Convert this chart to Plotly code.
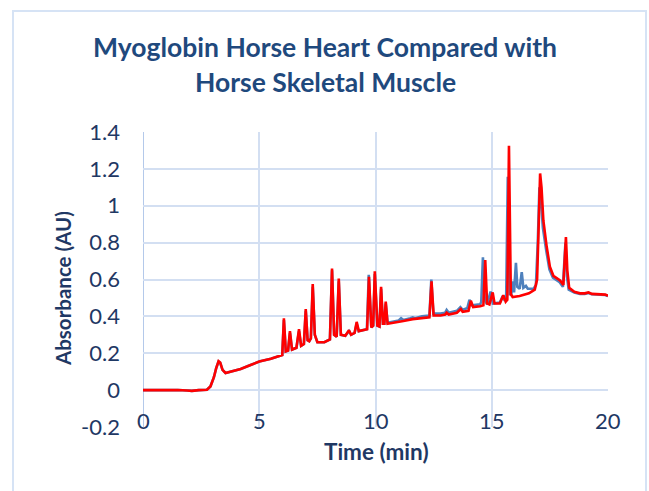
import plotly.graph_objects as go

# ---- data ----
heart_time = [0, 0.5, 1.0, 1.5, 1.9, 2.1, 2.4, 2.75, 2.9, 3.05, 3.15, 3.25, 3.32, 3.42, 3.55, 3.8, 4.2, 4.6,
              5.0, 5.5, 5.9, 5.99, 6.06, 6.14, 6.24, 6.32, 6.41, 6.6, 6.71, 6.8, 6.92, 7.0, 7.08, 7.15, 7.22,
              7.3, 7.39, 7.5, 7.8, 8.04, 8.13, 8.22, 8.33, 8.42, 8.51, 8.7, 8.86, 8.95, 9.1, 9.19, 9.28, 9.5,
              9.63, 9.71, 9.82, 9.9, 9.97, 10.08, 10.17, 10.24, 10.32, 10.38, 10.44, 10.52, 10.8, 11.0, 11.1,
              11.2, 11.5, 11.6, 11.7, 12.0, 12.32, 12.4, 12.49, 12.8, 13.0, 13.06, 13.15, 13.5, 13.65, 13.75,
              13.95, 14.04, 14.15, 14.5, 14.55, 14.62, 14.7, 14.8, 14.95, 15.05, 15.35, 15.47, 15.56, 15.62,
              15.69, 15.77, 15.84, 15.9, 15.96, 16.04, 16.1, 16.2, 16.29, 16.36, 16.47, 16.55, 16.8, 16.9,
              16.98, 17.05, 17.12, 17.2, 17.34, 17.48, 17.63, 17.92, 18.06, 18.12, 18.17, 18.23, 18.31,
              18.55, 18.8, 19.0, 19.16, 19.3, 19.52, 19.88, 20.0]
heart_abs = [0.0, 0.001, 0.0, 0.001, -0.002, -0.004, 0.0, 0.002, 0.02, 0.07, 0.12, 0.155, 0.148, 0.11, 0.093,
             0.10, 0.115, 0.135, 0.155, 0.17, 0.183, 0.19, 0.38, 0.21, 0.215, 0.31, 0.22, 0.23, 0.32, 0.24,
             0.25, 0.43, 0.27, 0.265, 0.28, 0.56, 0.30, 0.26, 0.26, 0.275, 0.65, 0.30, 0.29, 0.59, 0.30,
             0.295, 0.32, 0.30, 0.31, 0.36, 0.32, 0.325, 0.33, 0.625, 0.34, 0.35, 0.63, 0.35, 0.345, 0.55,
             0.36, 0.36, 0.47, 0.365, 0.372, 0.378, 0.39, 0.38, 0.39, 0.395, 0.39, 0.40, 0.405, 0.60, 0.415,
             0.415, 0.42, 0.435, 0.42, 0.43, 0.45, 0.435, 0.445, 0.49, 0.46, 0.465, 0.48, 0.72, 0.49, 0.465,
             0.535, 0.47, 0.475, 0.51, 0.485, 0.50, 1.157, 0.52, 0.52, 0.59, 0.53, 0.69, 0.56, 0.55, 0.64,
             0.555, 0.565, 0.55, 0.55, 0.57, 0.80, 1.10, 1.02, 0.88, 0.76, 0.655, 0.61, 0.585, 0.56, 0.68,
             0.80, 0.62, 0.545, 0.53, 0.522, 0.522, 0.527, 0.52, 0.518, 0.516, 0.51]

skeletal_time = [0, 0.5, 1.0, 1.5, 1.9, 2.1, 2.4, 2.75, 2.9, 3.05, 3.15, 3.25, 3.32, 3.42, 3.55, 3.8, 4.2, 4.6,
                 5.0, 5.5, 5.9, 5.99, 6.06, 6.14, 6.24, 6.32, 6.41, 6.6, 6.71, 6.8, 6.92, 7.0, 7.08, 7.15, 7.22,
                 7.3, 7.39, 7.5, 7.8, 8.04, 8.13, 8.22, 8.33, 8.42, 8.51, 8.7, 8.86, 8.95, 9.1, 9.19, 9.28, 9.5,
                 9.64, 9.72, 9.82, 9.9, 9.97, 10.08, 10.17, 10.24, 10.32, 10.38, 10.44, 10.52, 10.8, 11.2,
                 11.6, 12.0, 12.32, 12.41, 12.5, 12.8, 13.0, 13.06, 13.15, 13.5, 13.67, 13.75, 14.0, 14.1,
                 14.2, 14.5, 14.64, 14.72, 14.8, 14.9, 15.04, 15.12, 15.35, 15.5, 15.6, 15.67, 15.74, 15.82,
                 15.9, 16.2, 16.6, 16.85, 16.95, 17.02, 17.08, 17.14, 17.22, 17.36, 17.5, 17.65, 17.94, 18.08,
                 18.14, 18.19, 18.25, 18.33, 18.55, 18.8, 19.0, 19.16, 19.3, 19.52, 19.88, 20.0]
skeletal_abs = [0.0, 0.001, 0.0, 0.001, -0.002, -0.004, 0.0, 0.002, 0.02, 0.07, 0.12, 0.157, 0.15, 0.11, 0.093,
                0.10, 0.115, 0.135, 0.155, 0.17, 0.183, 0.19, 0.39, 0.21, 0.215, 0.32, 0.22, 0.23, 0.33, 0.24,
                0.25, 0.44, 0.27, 0.265, 0.28, 0.575, 0.30, 0.26, 0.26, 0.275, 0.66, 0.30, 0.29, 0.605, 0.30,
                0.295, 0.325, 0.30, 0.31, 0.37, 0.32, 0.325, 0.33, 0.615, 0.34, 0.35, 0.645, 0.35, 0.345, 0.56,
                0.36, 0.36, 0.48, 0.36, 0.365, 0.375, 0.385, 0.39, 0.395, 0.59, 0.405, 0.405, 0.41, 0.42, 0.41,
                0.42, 0.44, 0.425, 0.43, 0.485, 0.45, 0.455, 0.46, 0.705, 0.47, 0.465, 0.53, 0.47, 0.47, 0.515,
                0.48, 0.49, 1.325, 0.52, 0.505, 0.51, 0.525, 0.545, 0.60, 0.90, 1.175, 1.10, 0.92, 0.78, 0.67,
                0.62, 0.595, 0.57, 0.70, 0.83, 0.65, 0.555, 0.533, 0.525, 0.525, 0.53, 0.522, 0.52, 0.518, 0.512]

x_ticks = [0, 5, 10, 15, 20]
y_ticks = [1.4, 1.2, 1.0, 0.8, 0.6, 0.4, 0.2, 0.0, -0.2]
y_tick_text = ["1.4", "1.2", "1", "0.8", "0.6", "0.4", "0.2", "0", "-0.2"]

title_lines = ["Myoglobin Horse Heart Compared with", "Horse Skeletal Muscle"]
x_title = "Time (min)"
y_title = "Absorbance (AU)"

# ---- styling ----
FONT = "Lato, Open Sans, sans-serif"
TXT = "#1F3864"
TITLE_C = "#1F497D"
GRID = "#D3DFF2"

W, H = 649, 491
L, R, T, B = 143, 41, 132, 64
pw = W - L - R
ph = H - T - B

fig = go.Figure()
fig.add_trace(go.Scatter(x=heart_time, y=heart_abs, mode="lines", name="Horse Heart",
                         line=dict(color="#4F81BD", width=2.6), hoverinfo="skip"))
fig.add_trace(go.Scatter(x=skeletal_time, y=skeletal_abs, mode="lines", name="Horse Skeletal Muscle",
                         line=dict(color="#FF0000", width=2.6), hoverinfo="skip"))

annotations = []
for i, line in enumerate(title_lines):
    annotations.append(dict(text="<b>%s</b>" % line, xref="paper", yref="paper",
                            x=(325 - L) / pw, y=1 + (T - (47 + 35 * i)) / ph,
                            xanchor="center", yanchor="middle", showarrow=False,
                            font=dict(family=FONT, size=26.5, color=TITLE_C)))
for v in x_ticks:
    annotations.append(dict(text=str(v), xref="x", yref="y", x=v, y=-0.2, yshift=7,
                            xanchor="center", yanchor="middle", showarrow=False,
                            font=dict(family=FONT, size=22, color=TXT)))
annotations.append(dict(text="<b>%s</b>" % x_title, xref="paper", yref="paper",
                        x=(376 - L) / pw, y=-(451 - (T + ph)) / ph, xanchor="center", yanchor="middle",
                        showarrow=False, font=dict(family=FONT, size=22.5, color=TXT)))
annotations.append(dict(text="<b>%s</b>" % y_title, xref="paper", yref="paper",
                        x=(63 - L) / pw, y=1 - (289 - T) / ph, xanchor="center", yanchor="middle",
                        textangle=-90, showarrow=False, font=dict(family=FONT, size=20.5, color=TXT)))

fig.update_layout(
    width=W, height=H,
    margin=dict(l=L, r=R, t=T, b=B),
    paper_bgcolor="white", plot_bgcolor="white",
    showlegend=False,
    annotations=annotations,
    xaxis=dict(range=[0, 20], tickvals=x_ticks, showticklabels=False, showgrid=True,
               gridcolor=GRID, gridwidth=2, zeroline=False, showline=False, fixedrange=True),
    yaxis=dict(range=[-0.2, 1.4], tickvals=y_ticks, ticktext=y_tick_text, showgrid=True,
               gridcolor=GRID, gridwidth=2, zeroline=False, showline=False,
               ticklabelstandoff=22, tickfont=dict(family=FONT, size=22, color=TXT), fixedrange=True),
    shapes=[
        dict(type="rect", xref="paper", yref="paper", x0=-(L - 13) / pw, x1=1 + (646 - L - pw) / pw,
             y0=-(B + 5) / ph, y1=1 + (T - 11) / ph, line=dict(color="#D6E3F5", width=2), layer="below"),
        dict(type="line", xref="x", yref="paper", x0=0, x1=0, y0=0, y1=1,
             line=dict(color="#B4C9EA", width=2), layer="below"),
    ],
)

fig.write_html("out.html", config={"displayModeBar": False},
               post_script="document.body.style.margin='0';")
